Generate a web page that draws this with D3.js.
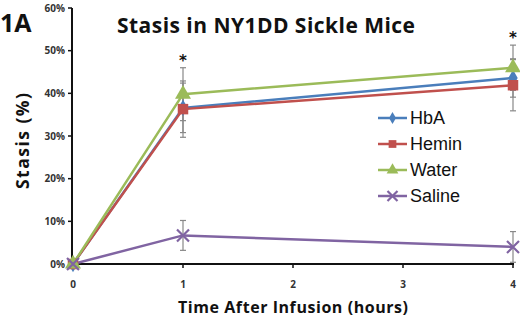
<!DOCTYPE html>
<html>
<head>
<meta charset="utf-8">
<script src="https://cdn.jsdelivr.net/npm/d3@7"></script>
<style>
  body { margin: 0; background: #fff; }
  svg { display: block; }
</style>
</head>
<body>
<div id="canvas"></div>
<script>
"use strict"

// DATA (hours after infusion, stasis fraction, sd)
let hours = [0, 1, 4];
let xTicks = [0, 1, 2, 3, 4];
let yTicks = [0, 0.1, 0.2, 0.3, 0.4, 0.5, 0.6];
let seriesNames = ["HbA", "Hemin", "Water", "Saline"];

let hbaValues = [0, 0.366, 0.436];
let hbaErrors = [0, 0.058, 0.045];
let heminValues = [0, 0.363, 0.419];
let heminErrors = [0, 0.066, 0.06];
let waterValues = [0, 0.398, 0.46];
let waterErrors = [0, 0.062, 0.053];
let salineValues = [0, 0.067, 0.04];
let salineErrors = [0, 0.035, 0.036];

let starHours = [1, 4];

/* drawing config */
let svgWidth = 520;
let svgHeight = 319;

let colors = { HbA: "#4a7ebb", Hemin: "#c0504d", Water: "#9bbb59", Saline: "#8064a2" };
let symbols = { HbA: d3.symbolDiamond, Hemin: d3.symbolSquare, Water: d3.symbolTriangle, Saline: d3.symbolCross };

let series = [
  { name: "HbA", values: hbaValues, errors: hbaErrors },
  { name: "Hemin", values: heminValues, errors: heminErrors },
  { name: "Water", values: waterValues, errors: waterErrors },
  { name: "Saline", values: salineValues, errors: salineErrors }
];

let svg = d3.select("#canvas")
  .append("svg")
  .attr("width", svgWidth)
  .attr("height", svgHeight);

let xScale = d3.scaleLinear()
  .domain([0, 4])
  .range([73, 513]);

let yScale = d3.scaleLinear()
  .domain([0, 0.6])
  .range([264, 8]);

// AXES
svg.append("line")
  .attr("x1", xScale(0) - 1).attr("y1", yScale(0.6))
  .attr("x2", xScale(0) - 1).attr("y2", yScale(0))
  .attr("stroke", "#111").attr("stroke-width", 2);

svg.append("line")
  .attr("x1", xScale(0) - 2).attr("y1", yScale(0))
  .attr("x2", xScale(4) + 1).attr("y2", yScale(0))
  .attr("stroke", "#111").attr("stroke-width", 2);

svg.selectAll(".ytick")
  .data(yTicks)
  .join("line")
  .attr("x1", xScale(0) - 5).attr("x2", xScale(0) - 1)
  .attr("y1", d => yScale(d)).attr("y2", d => yScale(d))
  .attr("stroke", "#111").attr("stroke-width", 1.5);

svg.selectAll(".ylab")
  .data(yTicks)
  .join("text")
  .attr("x", xScale(0) - 8)
  .attr("y", d => yScale(d))
  .attr("dy", "0.35em")
  .attr("text-anchor", "end")
  .style("font-family", "'Open Sans', sans-serif")
  .style("font-weight", "bold")
  .style("font-size", "10px")
  .attr("fill", "#333")
  .text(d => d3.format(".0%")(d));

svg.selectAll(".xtick")
  .data(xTicks)
  .join("line")
  .attr("x1", d => xScale(d)).attr("x2", d => xScale(d))
  .attr("y1", yScale(0)).attr("y2", yScale(0) + 4)
  .attr("stroke", "#111").attr("stroke-width", 1.5);

svg.selectAll(".xlab")
  .data(xTicks)
  .join("text")
  .attr("x", d => xScale(d))
  .attr("y", 288)
  .attr("text-anchor", "middle")
  .style("font-family", "'Open Sans', sans-serif")
  .style("font-weight", "bold")
  .style("font-size", "10px")
  .attr("fill", "#333")
  .text(d => d);

// TITLES
svg.append("text")
  .attr("x", 0).attr("y", 32)
  .style("font-family", "'Open Sans', sans-serif")
  .style("font-weight", "bold")
  .style("font-size", "25px")
  .attr("fill", "#111")
  .text("1A");

svg.append("text")
  .attr("x", 117).attr("y", 33)
  .attr("textLength", 298)
  .style("font-family", "'Open Sans', sans-serif")
  .style("font-weight", "bold")
  .style("font-size", "21px")
  .attr("fill", "#111")
  .text("Stasis in NY1DD Sickle Mice");

svg.append("text")
  .attr("x", 293).attr("y", 313)
  .attr("text-anchor", "middle")
  .attr("textLength", 230)
  .style("font-family", "'Open Sans', sans-serif")
  .style("font-weight", "bold")
  .style("font-size", "16px")
  .attr("fill", "#111")
  .text("Time After Infusion (hours)");

svg.append("text")
  .attr("transform", "translate(29,141) rotate(-90)")
  .attr("text-anchor", "middle")
  .attr("textLength", 96)
  .style("font-family", "'Open Sans', sans-serif")
  .style("font-weight", "bold")
  .style("font-size", "17.5px")
  .attr("fill", "#111")
  .text("Stasis (%)");

// ERROR BARS
series.forEach(function (s) {
  let g = svg.append("g");
  hours.forEach(function (h, i) {
    if (s.errors[i] == 0) return;
    let top = yScale(s.values[i] + s.errors[i]);
    let bottom = yScale(Math.max(0, s.values[i] - s.errors[i]));
    g.append("line")
      .attr("x1", xScale(h)).attr("x2", xScale(h))
      .attr("y1", top).attr("y2", bottom)
      .attr("stroke", "#888").attr("stroke-width", 1.2);
    [top, bottom].forEach(function (yy) {
      g.append("line")
        .attr("x1", xScale(h) - 3).attr("x2", xScale(h) + 3)
        .attr("y1", yy).attr("y2", yy)
        .attr("stroke", "#888").attr("stroke-width", 1.2);
    });
  });
});

// LINES + MARKERS
let line = d3.line()
  .x((d, i) => xScale(hours[i]))
  .y(d => yScale(d));

series.forEach(function (s) {
  svg.append("path")
    .attr("d", line(s.values))
    .attr("fill", "none")
    .attr("stroke", colors[s.name])
    .attr("stroke-width", 2.5);
});

function drawMarker(name, cx, cy, big) {
  let size = big ? 110 : 60;
  if (name == "Saline") {
    let r = big ? 6 : 5;
    svg.append("path")
      .attr("d", `M${cx - r},${cy - r}L${cx + r},${cy + r}M${cx - r},${cy + r}L${cx + r},${cy - r}`)
      .attr("stroke", colors[name]).attr("stroke-width", 2.2).attr("fill", "none");
    return;
  }
  svg.append("path")
    .attr("d", d3.symbol().type(symbols[name]).size(name == "HbA" ? size * 0.7 : size)())
    .attr("transform", `translate(${cx},${cy})`)
    .attr("fill", colors[name]);
}

series.forEach(function (s) {
  s.values.forEach(function (v, i) {
    drawMarker(s.name, xScale(hours[i]), yScale(v), true);
  });
});

// SIGNIFICANCE STARS
svg.selectAll(".star")
  .data(starHours)
  .join("text")
  .attr("x", d => xScale(d))
  .attr("y", d => d3.min(series, s => yScale(s.values[hours.indexOf(d)] + s.errors[hours.indexOf(d)])) - 2)
  .attr("text-anchor", "middle")
  .style("font-family", "'DejaVu Sans', sans-serif")
  .style("font-weight", "bold")
  .style("font-size", "15px")
  .attr("fill", "#111")
  .text("*");

// LEGEND
let legendY = [118, 144, 170, 196];
seriesNames.forEach(function (name, i) {
  svg.append("line")
    .attr("x1", 378).attr("x2", 407)
    .attr("y1", legendY[i]).attr("y2", legendY[i])
    .attr("stroke", colors[name]).attr("stroke-width", 2.5);
  drawMarker(name, 392.5, legendY[i], false);
  svg.append("text")
    .attr("x", 410).attr("y", legendY[i])
    .attr("dy", "0.36em")
    .style("font-family", "'Liberation Sans', Arial, sans-serif")
    .style("font-size", "18px")
    .attr("fill", "#111")
    .text(name);
});
</script>
</body>
</html>
